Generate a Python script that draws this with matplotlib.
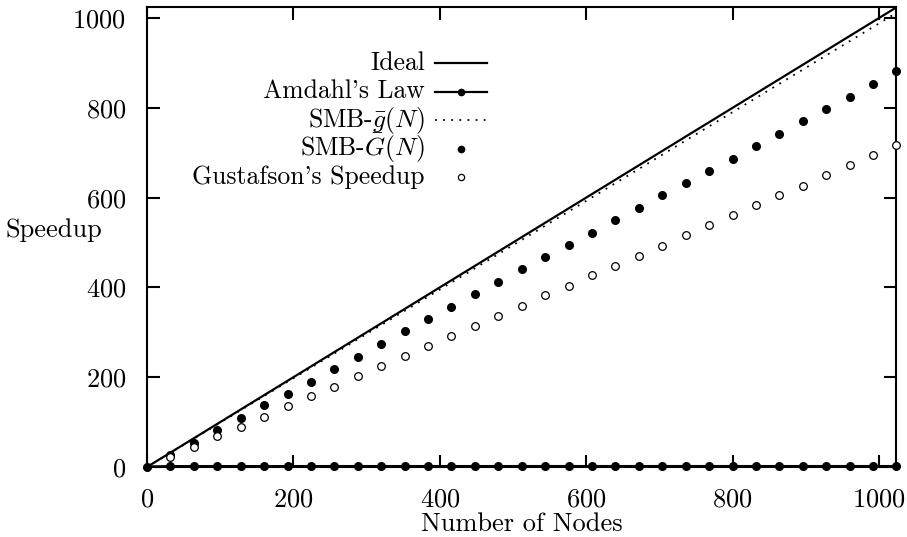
import matplotlib
matplotlib.use('Agg')
import matplotlib.pyplot as plt
from matplotlib.lines import Line2D

plt.rcParams['font.family'] = ['cmr10', 'DejaVu Serif']
plt.rcParams['mathtext.fontset'] = 'cm'
plt.rcParams['axes.formatter.use_mathtext'] = True

# number of nodes sampled (every 32)
nodes = [0, 32, 64, 96, 128, 160, 192, 224, 256, 288, 320, 352, 384, 416, 448,
         480, 512, 544, 576, 608, 640, 672, 704, 736, 768, 800, 832, 864, 896,
         928, 960, 992, 1024]

ideal_x = [0, 1024]
ideal_y = [0, 1024]

amdahl = [1.0, 1.9, 1.95, 1.97, 1.98, 1.98, 1.98, 1.99, 1.99, 1.99, 1.99, 1.99,
          1.99, 1.99, 1.99, 1.99, 2.0, 2.0, 2.0, 2.0, 2.0, 2.0, 2.0, 2.0, 2.0,
          2.0, 2.0, 2.0, 2.0, 2.0, 2.0, 2.0, 2.0]

smb_g_bar = [0, 31.6, 63.2, 94.8, 126.5, 158.1, 189.7, 221.3, 252.9, 284.5,
             316.2, 347.8, 379.4, 411.0, 442.6, 474.2, 505.9, 537.5, 569.1,
             600.7, 632.3, 663.9, 695.6, 727.2, 758.8, 790.4, 822.0, 853.6,
             885.2, 916.9, 948.5, 980.1, 1011.7]

# SMB-G(N) and Gustafson are only plotted from 32 nodes on
smb_G = [27, 53, 82, 110, 137, 163, 190, 218, 246, 274, 302, 330, 357, 385,
         412, 440, 467, 495, 522, 550, 578, 605, 632, 660, 687, 715, 742, 770,
         797, 825, 853, 881]

gustafson = [22, 45, 68, 90, 112, 135, 157, 179, 202, 224, 247, 269, 292, 314,
             337, 359, 382, 404, 427, 448, 471, 493, 516, 538, 561, 583, 605,
             627, 650, 673, 696, 718]

labels = ['Ideal', "Amdahl's Law", r'SMB-$\bar{g}(N)$', r'SMB-$\bar{G}(N)$',
          "Gustafson's Speedup"]

FS = 19
W, H = 907, 537

fig = plt.figure(figsize=(W / 100, H / 100), dpi=100)
ax = fig.add_axes([0.1621, 0.1304, 0.8263, 0.856])

ideal_style = dict(color='black', lw=1.6)
amdahl_style = dict(color='black', lw=1.6, marker='o', ms=5.5)
gbar_style = dict(color='black', lw=1.3, linestyle=(0, (1, 3.5)))
bigG_style = dict(color='black', lw=0, marker='o', ms=5.5)
gus_style = dict(color='black', lw=0, marker='o', ms=5.5, mfc='white', mew=0.9)

ax.plot(ideal_x, ideal_y, **ideal_style)
ax.plot(nodes, amdahl, clip_on=False, zorder=4, **amdahl_style)
ax.plot(nodes, smb_g_bar, **gbar_style)
ax.plot(nodes[1:], smb_G, clip_on=False, zorder=4, **bigG_style)
ax.plot(nodes[1:], gustafson, clip_on=False, zorder=4, **gus_style)

ax.set_xlim(0, 1024)
ax.set_ylim(0, 1024)
ax.set_xticks([0, 200, 400, 600, 800, 1000])
ax.set_yticks([0, 200, 400, 600, 800, 1000])

for s in ax.spines.values():
    s.set_linewidth(1.5)
ax.tick_params(direction='in', length=9, width=1.5, top=True, right=True,
               labelsize=FS, pad=15)

ax.set_xlabel('Number of Nodes', fontsize=FS, labelpad=0.5)
ax.set_ylabel('Speedup', fontsize=FS, rotation=0, ha='left', va='center')
ax.yaxis.set_label_coords(-0.189, 0.516)

# key drawn by hand so the rows are evenly spaced, like the original
styles = [ideal_style, amdahl_style, gbar_style, bigG_style, gus_style]
rows_y = [63, 91.5, 120, 148.5, 177]
x_text, x0, x1 = 425, 435, 487
for lab, st, y in zip(labels, styles, rows_y):
    fig.text(x_text / W, 1 - (y + 7) / H, lab, fontsize=18.5, ha='right',
             va='baseline')
    if st.get('lw', 1) > 0:
        fig.add_artist(Line2D([x0 / W, x1 / W], [1 - y / H, 1 - y / H],
                              transform=fig.transFigure,
                              **{k: v for k, v in st.items() if k not in
                                 ('marker', 'ms')}))
    if 'marker' in st:
        key_st = {k: v for k, v in st.items() if k != 'lw'}
        key_st['ms'] = 4.5
        fig.add_artist(Line2D([(x0 + x1) / 2 / W], [1 - y / H],
                              transform=fig.transFigure, **key_st))

fig.savefig('out.png', dpi=100)
